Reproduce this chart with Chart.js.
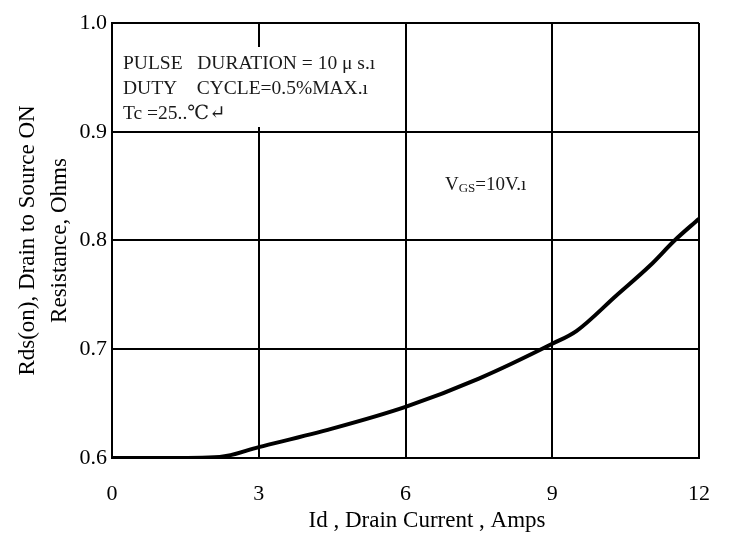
<!DOCTYPE html>
<html>
<head>
<meta charset="utf-8">
<script src="https://cdn.jsdelivr.net/npm/chart.js@4"></script>
<style>
  html, body { margin: 0; padding: 0; background: #fff; }
  #wrap { width: 733px; height: 533px; }
</style>
</head>
<body>
<div id="wrap"><canvas id="myChart" width="733" height="533"></canvas></div>
<script>
// data
const drainCurrent = [0, 1, 2.2, 3, 4.5, 6, 7.5, 9, 9.5, 10.3, 11, 11.5, 12];
const rdsOn = [0.600, 0.600, 0.601, 0.610, 0.627, 0.647, 0.673, 0.705, 0.717, 0.749, 0.777, 0.800, 0.820];

const xTicks = [0, 3, 6, 9, 12];
const yTicks = [0.6, 0.7, 0.8, 0.9, 1.0];

const noteLines = ["PULSE   DURATION = 10 μ s.ı", "DUTY    CYCLE=0.5%MAX.ı", "Tc =25..℃↵"];
const xTitle = "Id , Drain Current , Amps";

const serif = "'Liberation Serif', 'DejaVu Serif', serif";

// notes box, VGS label, x title
const notes = {
  id: "notes",
  beforeDatasetsDraw(chart) {
    const c = chart.ctx;
    const xs = chart.scales.x;
    c.save();
    c.fillStyle = "#fff";
    c.fillRect(xs.left + 2, 47, 280, 80);
    c.fillStyle = "#1a1a1a";
    c.font = "19.5px " + serif;
    c.textBaseline = "middle";
    noteLines.forEach((t, i) => {
      c.fillText(t, xs.left + 11, 64 + i * 25);
    });
    // VGS=10V
    let x = 445, y = 185;
    c.font = "19px " + serif;
    c.fillText("V", x, y);
    x += c.measureText("V").width;
    c.font = "13px " + serif;
    c.fillText("GS", x, y + 4);
    x += c.measureText("GS").width;
    c.font = "19px " + serif;
    c.fillText("=10V.ı", x, y);
    c.restore();
  },
  afterDraw(chart) {
    const c = chart.ctx;
    c.save();
    c.fillStyle = "#000";
    c.font = "23px " + serif;
    c.textAlign = "center";
    c.textBaseline = "middle";
    c.fillText(xTitle, 427, 521);
    c.restore();
  }
};

const ctx = document.getElementById("myChart");

const chart = new Chart(ctx, {
  type: "line",
  data: {
    datasets: [
      {
        data: drainCurrent.map((x, i) => ({ x: x, y: rdsOn[i] })),
        borderColor: "#000",
        borderWidth: 4,
        pointRadius: 0,
        cubicInterpolationMode: "monotone",
        fill: false,
      },
    ],
  },
  options: {
    responsive: false,
    animation: false,
    layout: { padding: { left: 0, top: 23, right: 31, bottom: 0 } },
    plugins: {
      legend: { display: false },
      tooltip: { enabled: false },
    },
    scales: {
      x: {
        type: "linear",
        min: 0,
        max: 12,
        afterBuildTicks: (s) => { s.ticks = xTicks.map((v) => ({ value: v })); },
        afterFit: (s) => { s.height = 75; },
        grid: { color: "#000", lineWidth: 2, drawTicks: false },
        border: { color: "#000", width: 2 },
        ticks: {
          padding: 23,
          color: "#000",
          maxRotation: 0,
          font: { family: serif, size: 22 },
        },
      },
      y: {
        type: "linear",
        min: 0.6,
        max: 1.0,
        afterBuildTicks: (s) => { s.ticks = yTicks.map((v) => ({ value: v })); },
        afterFit: (s) => { s.width = 112; },
        grid: { color: "#000", lineWidth: 2, drawTicks: false },
        border: { color: "#000", width: 2 },
        ticks: {
          padding: 5,
          color: "#000",
          font: { family: serif, size: 22 },
          callback: (v) => v.toFixed(1),
        },
        title: {
          display: true,
          text: ["Rds(on), Drain to Source ON", "Resistance, Ohms"],
          color: "#000",
          font: { family: serif, size: 23, lineHeight: 1.38 },
          padding: { top: 12, bottom: 0 },
        },
      },
    },
  },
  plugins: [notes],
});
</script>
</body>
</html>
